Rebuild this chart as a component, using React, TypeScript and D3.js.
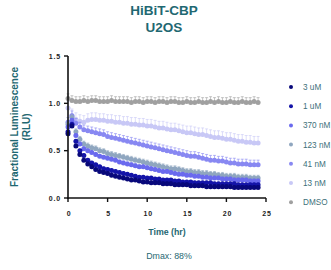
import React from 'react';
import * as d3 from 'd3';

// sampled every 0.5 hr, 0 to 24 hr
const hours = d3.range(0, 24.01, 0.5);

const dmso = [1.05, 1.03, 1.02, 1.02, 1.03, 1.02, 1.03, 1.03, 1.02, 1.02,
  1.02, 1.03, 1.02, 1.02, 1.02, 1.02, 1.01, 1.02, 1.02, 1.01,
  1.02, 1.02, 1.01, 1.02, 1.02, 1.01, 1.02, 1.02, 1.01, 1.01,
  1.02, 1.01, 1.01, 1.02, 1.01, 1.01, 1.02, 1.01, 1.02, 1.01,
  1.01, 1.02, 1.01, 1.01, 1.02, 1.01, 1.01, 1.02, 1.01];
const nM13 = [0.95, 0.87, 0.83, 0.81, 0.80, 0.82, 0.83, 0.83, 0.82, 0.82,
  0.81, 0.81, 0.80, 0.80, 0.79, 0.79, 0.78, 0.78, 0.77, 0.77,
  0.76, 0.76, 0.75, 0.74, 0.74, 0.73, 0.72, 0.72, 0.71, 0.70,
  0.69, 0.69, 0.68, 0.67, 0.67, 0.66, 0.65, 0.64, 0.64, 0.63,
  0.62, 0.62, 0.61, 0.60, 0.60, 0.59, 0.59, 0.58, 0.58];
const nM41 = [0.80, 0.87, 0.79, 0.75, 0.72, 0.71, 0.70, 0.69, 0.68, 0.67,
  0.65, 0.64, 0.63, 0.62, 0.61, 0.60, 0.59, 0.58, 0.57, 0.56,
  0.55, 0.54, 0.53, 0.52, 0.51, 0.50, 0.49, 0.48, 0.47, 0.46,
  0.45, 0.44, 0.44, 0.43, 0.42, 0.41, 0.40, 0.40, 0.39, 0.39,
  0.38, 0.37, 0.37, 0.36, 0.36, 0.36, 0.35, 0.35, 0.35];
const nM123 = [0.78, 0.85, 0.70, 0.62, 0.57, 0.55, 0.53, 0.52, 0.50, 0.49,
  0.47, 0.46, 0.45, 0.44, 0.43, 0.42, 0.41, 0.40, 0.39, 0.38,
  0.37, 0.36, 0.35, 0.34, 0.33, 0.32, 0.31, 0.31, 0.30, 0.29,
  0.28, 0.28, 0.27, 0.27, 0.26, 0.26, 0.25, 0.25, 0.24, 0.24,
  0.23, 0.23, 0.23, 0.22, 0.22, 0.22, 0.21, 0.21, 0.21];
const nM370 = [0.75, 0.82, 0.66, 0.57, 0.52, 0.50, 0.48, 0.46, 0.44, 0.43,
  0.42, 0.41, 0.40, 0.38, 0.37, 0.36, 0.35, 0.34, 0.33, 0.33,
  0.32, 0.31, 0.30, 0.29, 0.28, 0.28, 0.27, 0.26, 0.25, 0.25,
  0.24, 0.24, 0.23, 0.23, 0.22, 0.22, 0.21, 0.21, 0.21, 0.20,
  0.20, 0.20, 0.19, 0.19, 0.19, 0.19, 0.18, 0.18, 0.18];
const uM1 = [0.70, 0.78, 0.60, 0.50, 0.45, 0.40, 0.37, 0.35, 0.33, 0.31,
  0.30, 0.29, 0.28, 0.27, 0.26, 0.25, 0.24, 0.23, 0.22, 0.22,
  0.21, 0.21, 0.20, 0.20, 0.19, 0.19, 0.19, 0.18, 0.18, 0.17,
  0.17, 0.17, 0.16, 0.16, 0.16, 0.16, 0.16, 0.15, 0.15, 0.15,
  0.15, 0.15, 0.15, 0.14, 0.14, 0.14, 0.14, 0.14, 0.14];
const uM3 = [0.68, 0.76, 0.55, 0.46, 0.40, 0.36, 0.33, 0.30, 0.28, 0.27,
  0.26, 0.24, 0.23, 0.22, 0.21, 0.20, 0.19, 0.19, 0.18, 0.17,
  0.17, 0.16, 0.16, 0.16, 0.15, 0.15, 0.15, 0.14, 0.14, 0.14,
  0.14, 0.13, 0.13, 0.13, 0.13, 0.12, 0.12, 0.12, 0.12, 0.12,
  0.12, 0.12, 0.11, 0.11, 0.11, 0.11, 0.11, 0.11, 0.11];

// rough SEM per series (upper bars only)
const sem = [0.02, 0.015, 0.02, 0.03, 0.05, 0.07, 0.05];

const labels = ['3 uM', '1 uM', '370 nM', '123 nM', '41 nM', '13 nM', 'DMSO'];
const colors = ['#08087a', '#1414a8', '#6a6aee', '#8fa6bf', '#8888f2', '#c8c8f6', '#a0a0a0'];
const values = [uM3, uM1, nM370, nM123, nM41, nM13, dmso];

const xTicks = [0, 5, 10, 15, 20, 25];
const yTicks = [0, 0.5, 1.0, 1.5];

const teal = '#1f6872';

export default function App() {
  const x = d3.scaleLinear().domain([0, 25]).range([68, 266]);
  const y = d3.scaleLinear().domain([0, 1.5]).range([198, 56]);
  const order = [6, 5, 4, 3, 2, 1, 0];

  return (
    <svg width={331} height={270} style={{ position: 'absolute', left: 0, top: 0, fontFamily: 'Arial, "Liberation Sans", sans-serif' }}>
      <text x={164} y={15} textAnchor="middle" fontSize={13.5} fontWeight="bold" fill={teal}>HiBiT-CBP</text>
      <text x={164} y={32} textAnchor="middle" fontSize={13.5} fontWeight="bold" fill={teal}>U2OS</text>

      <g transform="translate(18,127) rotate(-90)">
        <text textAnchor="middle" fontSize={10} fontWeight="bold" fill={teal}>Fractional Luminescence</text>
        <text y={12} textAnchor="middle" fontSize={10} fontWeight="bold" fill={teal}>(RLU)</text>
      </g>

      {order.map(si => (
        <g key={si}>
          {values[si].map((v, i) => (
            <g key={i} stroke={colors[si]} strokeWidth={0.6}>
              <line x1={x(hours[i])} x2={x(hours[i])} y1={y(v)} y2={y(v + sem[si])} />
              <line x1={x(hours[i]) - 1.5} x2={x(hours[i]) + 1.5} y1={y(v + sem[si])} y2={y(v + sem[si])} />
            </g>
          ))}
          {values[si].map((v, i) => (
            <circle key={'c' + i} cx={x(hours[i])} cy={y(v)} r={2.5} fill={colors[si]} />
          ))}
        </g>
      ))}

      <line x1={68} x2={68} y1={y(1.5)} y2={y(0) + 1} stroke="#111" strokeWidth={1.6} />
      <line x1={67} x2={x(25)} y1={y(0)} y2={y(0)} stroke="#111" strokeWidth={1.6} />
      {yTicks.map(t => (
        <g key={t}>
          <line x1={64} x2={68} y1={y(t)} y2={y(t)} stroke="#111" strokeWidth={1.4} />
          <text x={61} y={y(t) + 2.5} textAnchor="end" fontSize={7} fontWeight="bold" letterSpacing={0.8} fill="#222">{t.toFixed(1)}</text>
        </g>
      ))}
      {xTicks.map(t => (
        <g key={t}>
          <line x1={x(t)} x2={x(t)} y1={y(0)} y2={y(0) + 4} stroke="#111" strokeWidth={1.4} />
          <text x={x(t) + 1} y={216} textAnchor="middle" fontSize={7} fontWeight="bold" letterSpacing={0.8} fill="#222">{t}</text>
        </g>
      ))}

      <text x={167} y={235} textAnchor="middle" fontSize={8.8} fontWeight="bold" fill={teal}>Time (hr)</text>
      <text x={169} y={259} textAnchor="middle" fontSize={8.8} fill={teal}>Dmax: 88%</text>

      {labels.map((l, i) => (
        <g key={l} transform={`translate(0,${87 + i * 19.2})`}>
          <circle cx={291} cy={0} r={2} fill={colors[i]} />
          <text x={303} y={3} fontSize={8.2} fill="#3d6f7a">{l}</text>
        </g>
      ))}
    </svg>
  );
}
